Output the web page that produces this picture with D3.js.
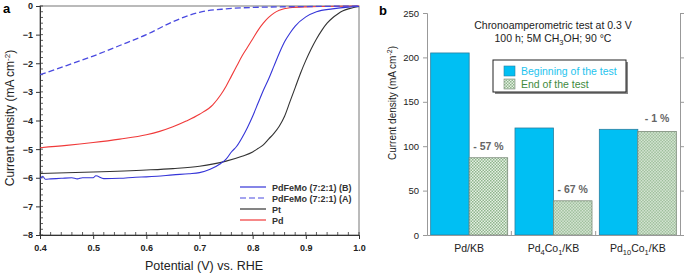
<!DOCTYPE html>
<html><head><meta charset="utf-8">
<script src="https://cdn.jsdelivr.net/npm/d3@7"></script>
<style>body{margin:0;background:#fff}svg{display:block;font-family:Arial,"Liberation Sans",sans-serif}</style>
</head><body><svg id="c" width="685" height="274"></svg>
<script>
// ---------- Panel a data ----------
const potentialB = [0.4,0.405,0.41,0.42,0.44,0.46,0.47,0.48,0.5,0.505,0.52,0.55,0.58,0.6,0.62,0.65,0.68,0.7,0.72,0.74,0.75,0.76,0.77,0.78,0.79,0.8,0.81,0.82,0.83,0.84,0.85,0.86,0.87,0.88,0.9,0.92,0.95,0.98,1.0];
const currentB   = [-6.05,-5.95,-6.05,-6.04,-6.02,-6.0,-6.04,-6.0,-6.0,-5.93,-6.03,-6.02,-5.98,-5.97,-5.95,-5.9,-5.86,-5.82,-5.7,-5.5,-5.35,-5.1,-4.9,-4.6,-4.25,-3.85,-3.4,-2.95,-2.55,-2.1,-1.65,-1.25,-0.95,-0.7,-0.38,-0.2,-0.1,-0.04,-0.02];
const potentialA = [0.4,0.45,0.5,0.55,0.6,0.65,0.675,0.7,0.75,0.8,0.85,0.9,1.0];
const currentA   = [-2.4,-2.08,-1.75,-1.38,-1.0,-0.55,-0.36,-0.22,-0.1,-0.05,-0.03,-0.02,0];
const potentialPt = [0.4,0.5,0.6,0.65,0.7,0.75,0.78,0.8,0.81,0.82,0.83,0.84,0.85,0.86,0.87,0.88,0.89,0.9,0.91,0.92,0.93,0.94,0.95,0.96,0.97,0.98,0.99,1.0];
const currentPt   = [-5.85,-5.8,-5.73,-5.68,-5.6,-5.42,-5.25,-5.1,-4.98,-4.85,-4.65,-4.45,-4.2,-3.85,-3.35,-2.85,-2.35,-1.9,-1.5,-1.15,-0.85,-0.6,-0.42,-0.28,-0.17,-0.1,-0.05,-0.02];
const potentialPd = [0.4,0.45,0.5,0.55,0.6,0.625,0.65,0.675,0.7,0.725,0.74,0.75,0.76,0.77,0.78,0.79,0.8,0.81,0.82,0.83,0.84,0.85,0.87,0.9,1.0];
const currentPd   = [-4.95,-4.87,-4.77,-4.65,-4.5,-4.38,-4.22,-4.02,-3.78,-3.45,-3.1,-2.8,-2.45,-2.1,-1.75,-1.45,-1.15,-0.85,-0.6,-0.4,-0.25,-0.15,-0.06,-0.03,0];
const seriesNamesA = ["PdFeMo (7:2:1) (B)","PdFeMo (7:2:1) (A)","Pt","Pd"];
const xTicksA = [0.4,0.5,0.6,0.7,0.8,0.9,1.0];
const yTicksA = [0,-1,-2,-3,-4,-5,-6,-7,-8];

// ---------- Panel b data ----------
const categoriesB = ["Pd/KB","Pd4Co1/KB","Pd10Co1/KB"];
const beginning = [205,120.5,119];
const endTest   = [87,38.5,116.5];
const lossLabels = ["- 57 %","- 67 %","- 1 %"];
const yTicksB = [0,50,100,150,200,250];
const legendB = ["Beginning of the test","End of the test"];

const svg = d3.select("#c");
const defs = svg.append("defs");
const pat = defs.append("pattern").attr("id","chk").attr("patternUnits","userSpaceOnUse").attr("width",3).attr("height",3);
pat.append("rect").attr("width",3).attr("height",3).attr("fill","#e6f0e4");
pat.append("rect").attr("width",1.5).attr("height",1.5).attr("fill","#8fb58c");
pat.append("rect").attr("x",1.5).attr("y",1.5).attr("width",1.5).attr("height",1.5).attr("fill","#8fb58c");

// ===== Panel a =====
const xa = d3.scaleLinear().domain([0.4,1.0]).range([40,359]);
const ya = d3.scaleLinear().domain([-8,0]).range([235,6]);
const ga = svg.append("g");
ga.append("rect").attr("x",40).attr("y",6).attr("width",319).attr("height",229).attr("fill","none").attr("stroke","#777").attr("stroke-width",1);
const xMinor = d3.range(0.4,1.0001,0.02);
ga.selectAll(".xm").data(xMinor).join("line").attr("x1",d=>xa(d)).attr("x2",d=>xa(d)).attr("y1",235).attr("y2",232).attr("stroke","#333").attr("stroke-width",0.8);
const yMinor = d3.range(-8,0.0001,0.2);
ga.selectAll(".ym").data(yMinor).join("line").attr("y1",d=>ya(d)).attr("y2",d=>ya(d)).attr("x1",40).attr("x2",43).attr("stroke","#333").attr("stroke-width",0.8);
const axA = ga.append("g").attr("transform","translate(0,235)").call(d3.axisBottom(xa).tickValues(xTicksA).tickFormat(d3.format(".1f")).tickSize(4).tickPadding(4));
const ayA = ga.append("g").attr("transform","translate(40,0)").call(d3.axisLeft(ya).tickValues(yTicksA).tickFormat(d=>d===0?"0":d3.format("d")(d)).tickSize(4).tickPadding(3));
[axA,ayA].forEach(a=>{a.select(".domain").attr("stroke","#333");a.selectAll("text").attr("font-size",9).attr("font-weight","bold").attr("fill","#222");a.selectAll(".tick line").attr("stroke","#333");});
axA.selectAll("text").attr("dy","0.9em");

const line = d3.line().x(d=>xa(d[0])).y(d=>ya(d[1])).curve(d3.curveMonotoneX);
const zip=(a,b)=>a.map((v,i)=>[v,b[i]]);
const seriesA = [
 {pts:zip(potentialPd,currentPd),color:"#f03a3a",dash:null,w:1.1},
 {pts:zip(potentialPt,currentPt),color:"#333333",dash:null,w:1.1},
 {pts:zip(potentialB,currentB),color:"#3535d8",dash:null,w:1.1},
 {pts:zip(potentialA,currentA),color:"#4a4ae0",dash:"6,3",w:1.3}
];
ga.selectAll(".ser").data(seriesA).join("path").attr("fill","none").attr("stroke",d=>d.color).attr("stroke-width",d=>d.w).attr("stroke-dasharray",d=>d.dash).attr("d",d=>line(d.pts));

const legA = [{c:"#3535d8",dash:null},{c:"#4a4ae0",dash:"6,3"},{c:"#333",dash:null},{c:"#f03a3a",dash:null}];
const lg = ga.append("g");
seriesNamesA.forEach((n,i)=>{
  const yy = 187 + i*11;
  lg.append("line").attr("x1",240).attr("x2",266).attr("y1",yy).attr("y2",yy).attr("stroke",legA[i].c).attr("stroke-width",1.2).attr("stroke-dasharray",legA[i].dash);
  lg.append("text").attr("x",272).attr("y",yy+3.5).attr("font-size",9).attr("font-weight","bold").attr("fill","#333").text(n);
});
ga.append("text").attr("x",3).attr("y",13).attr("font-size",13).attr("font-weight","bold").text("a");
ga.append("text").attr("transform","translate(14,118) rotate(-90)").attr("text-anchor","middle").attr("font-size",12).attr("fill","#222")
  .html('Current density (mA cm<tspan dy="-4" font-size="8">-2</tspan><tspan dy="4">)</tspan>');
ga.append("text").attr("x",204).attr("y",270).attr("text-anchor","middle").attr("font-size",12.5).attr("fill","#222").text("Potential (V) vs. RHE");

// ===== Panel b =====
const xb = d3.scaleBand().domain(categoriesB).range([427,680]).paddingInner(0).paddingOuter(0);
const yb = d3.scaleLinear().domain([0,250]).range([235,13]);
const gb = svg.append("g");
const inner = d3.scaleBand().domain([0,1]).range([0,xb.bandwidth()]).paddingInner(0).paddingOuter(0.095);
const grp = gb.selectAll(".grp").data(categoriesB).join("g").attr("transform",d=>`translate(${xb(d)},0)`);
grp.append("rect").attr("x",inner(0)).attr("width",inner.bandwidth()).attr("y",(d,i)=>yb(beginning[i])).attr("height",(d,i)=>yb(0)-yb(beginning[i])).attr("fill","#00bff3").attr("stroke","#2a7fa0").attr("stroke-width",0.8);
grp.append("rect").attr("x",inner(1)).attr("width",inner.bandwidth()).attr("y",(d,i)=>yb(endTest[i])).attr("height",(d,i)=>yb(0)-yb(endTest[i])).attr("fill","url(#chk)").attr("stroke","#7a8a78").attr("stroke-width",0.8);
grp.append("text").attr("x",(d,i)=>inner(1)+inner.bandwidth()/2).attr("y",(d,i)=>yb(endTest[i])-(i===2?10:8)).attr("text-anchor","middle").attr("font-size",10.5).attr("font-weight","bold").attr("fill","#666").text((d,i)=>lossLabels[i]);

const ayB = gb.append("g").attr("transform","translate(427,0)").call(d3.axisLeft(yb).tickValues(yTicksB).tickSize(4).tickPadding(4));
ayB.select(".domain").attr("stroke","#999");
ayB.selectAll(".tick line").attr("stroke","#999");
ayB.selectAll("text").attr("font-size",9.5).attr("fill","#222");
const ayB2 = gb.append("g").attr("transform","translate(680,0)").call(d3.axisRight(yb).tickValues(yTicksB).tickSize(4).tickFormat(""));
ayB2.select(".domain").attr("stroke","#999");
ayB2.selectAll(".tick line").attr("stroke","#999");
const axB = gb.append("g").attr("transform","translate(0,235)").call(d3.axisBottom(xb).tickSize(0).tickFormat(""));
axB.select(".domain").attr("stroke","#999");
gb.selectAll(".div").data(categoriesB.slice(1)).join("line").attr("x1",d=>xb(d)).attr("x2",d=>xb(d)).attr("y1",235).attr("y2",231).attr("stroke","#999");
const catLab = gb.selectAll(".cl").data(categoriesB).join("text").attr("x",d=>xb(d)+xb.bandwidth()/2).attr("y",252).attr("text-anchor","middle").attr("font-size",10.5).attr("fill","#222");
catLab.each(function(d){
  const t=d3.select(this);
  const m = d.match(/^Pd(\d+)Co(\d+)(\/KB)$/);
  if(!m){t.text(d);return;}
  t.append("tspan").text("Pd");
  t.append("tspan").attr("dy",3).attr("font-size",7.5).text(m[1]);
  t.append("tspan").attr("dy",-3).text("Co");
  t.append("tspan").attr("dy",3).attr("font-size",7.5).text(m[2]);
  t.append("tspan").attr("dy",-3).text(m[3]);
});
gb.append("text").attr("x",379).attr("y",15).attr("font-size",13).attr("font-weight","bold").text("b");
gb.append("text").attr("transform","translate(396,103) rotate(-90)").attr("text-anchor","middle").attr("font-size",10).attr("fill","#222")
  .html('Current density (mA cm<tspan dy="-4" font-size="7">-2</tspan><tspan dy="4">)</tspan>');
gb.append("text").attr("x",553).attr("y",29).attr("text-anchor","middle").attr("font-size",10.5).attr("fill","#222").text("Chronoamperometric test at 0.3 V");
gb.append("text").attr("x",553).attr("y",42).attr("text-anchor","middle").attr("font-size",10.5).attr("fill","#222")
  .html('100 h; 5M CH<tspan dy="3" font-size="7.5">3</tspan><tspan dy="-3">OH; 90 °C</tspan>');
const lb = gb.append("g");
lb.append("rect").attr("x",495).attr("y",62).attr("width",133).attr("height",32).attr("fill","#888");
lb.append("rect").attr("x",493).attr("y",60).attr("width",133).attr("height",32).attr("fill","#fff").attr("stroke","#222").attr("stroke-width",1);
lb.append("rect").attr("x",504).attr("y",66).attr("width",11).attr("height",10).attr("fill","#00bff3").attr("stroke","#2a7fa0").attr("stroke-width",0.6);
lb.append("rect").attr("x",504).attr("y",79).attr("width",11).attr("height",10).attr("fill","url(#chk)").attr("stroke","#7a8a78").attr("stroke-width",0.6);
lb.append("text").attr("x",521).attr("y",75).attr("font-size",10.5).attr("fill","#1ec3ee").text(legendB[0]);
lb.append("text").attr("x",521).attr("y",88).attr("font-size",10.5).attr("fill","#3f8a40").text(legendB[1]);
</script></body></html>
